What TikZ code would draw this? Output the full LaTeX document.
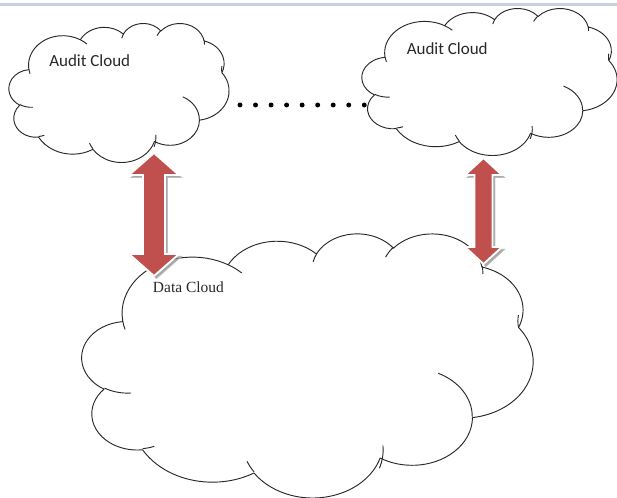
\documentclass[tikz,border=0pt]{standalone}
\usepackage{fontspec}
\newfontfamily\calib{Carlito}
\newfontfamily\tnr{Liberation Serif}
\usetikzlibrary{calc}
\pgfmathdeclarefunction{ofa}{3}{\pgfmathparse{atan2(#1*sin(#3),#2*cos(#3))}}
\pgfmathdeclarefunction{ofd}{4}{\pgfmathparse{mod(ofa(#1,#2,#3+#4)-ofa(#1,#2,#3)+720,360)}}
\definecolor{arrred}{RGB}{192,80,77}
\definecolor{barcol}{RGB}{200,208,220}
\definecolor{inkc}{RGB}{40,40,40}
\tikzset{
  oarc/.style n args={4}{insert path={arc[start angle={ofa(#1,#2,#3)}, delta angle={ofd(#1,#2,#3,#4)}, x radius=#1, y radius=#2]}},
  cloudline/.style={draw=inkc, line width=0.7pt, line join=round},
  arrowbody/.style={fill=arrred, draw=white, line width=1.4pt, line join=miter},
  arrowshadow/.style={fill=black!45, draw=black!30, line width=0.8pt, opacity=0.75, transform canvas={xshift=1.8pt,yshift=-1.8pt}},
  audittext/.style={anchor=base west, inner sep=0pt, text=inkc, font=\calib\fontsize{12.75}{15}\selectfont},
  datatext/.style={anchor=base west, inner sep=0pt, text=inkc, font=\tnr\fontsize{11.6}{14}\selectfont},
  dotline/.style={draw=black, line width=3.7pt, line cap=round, dash pattern=on 0pt off 11.65pt},
}
% Office-style cloud in a 100 x 100 box (y downwards)
\newcommand\officecloud[1]{%
  \path[cloudline, fill=white] (9.028,33.264)
    [oarc={15.632}{21.273}{-190.4875}{123.7805}]
    [oarc={12.345}{16.822}{-144.1024}{89.9452}]
    [oarc={10.104}{13.762}{-145.8079}{99.7230}]
    [oarc={11.243}{15.266}{-130.9861}{117.2417}]
    [oarc={12.345}{16.836}{-78.7089}{109.0269}]
    [oarc={15.683}{21.343}{-46.2673}{130.2690}]
    [oarc={13.391}{18.211}{0.6250}{114.0333}]
    [oarc={15.630}{21.331}{22.4516}{115.1726}]
    [oarc={17.870}{24.405}{66.2426}{75.7110}]
    [oarc={10.093}{13.699}{-274.9421}{146.7356}]
    [oarc={10.058}{13.762}{-246.8285}{152.5189}]
    -- cycle;
  \path[cloudline]
    (10.863,60.595) [oarc={10.058}{13.762}{86.7420}{26.4295}]
    (16.037,80.785) [oarc={10.093}{13.699}{73.6105}{11.4475}]
    (38.144,90.486) [oarc={15.630}{21.331}{137.6242}{14.0811}]
    (66.729,80.442) [oarc={15.630}{21.331}{-6.4533}{31.4390}]
    (79.002,53.134) [oarc={13.391}{18.211}{-70.2924}{70.7749}]
    (96.755,35.542) [oarc={12.345}{16.836}{-190.0899}{20.7568}]
    (88.713,12.560) [oarc={11.243}{15.266}{-13.7443}{14.8567}]
    (67.310,9.148)  [oarc={11.243}{15.266}{-149.1815}{18.1954}]
    (51.252,10.926) [oarc={10.104}{13.762}{-163.4943}{17.6864}]
    (32.407,12.019) [oarc={15.632}{21.273}{-66.7070}{12.3194}]
    (9.553,36.549)  [oarc={15.632}{21.273}{157.6544}{11.8616}];
  \coordinate (#1) at (50,50);
}
% up-down block arrow: top tip, bottom tip, head half width, shaft half width, head length, style
\newcommand\udarrow[6]{%
  \path[#6] (#1) -- ($(#1)+(#3,#5)$) -- ($(#1)+(#4,#5)$) -- ($(#2)+(#4,-#5)$)
    -- ($(#2)+(#3,-#5)$) -- (#2) -- ($(#2)+(-#3,-#5)$) -- ($(#2)+(-#4,-#5)$)
    -- ($(#1)+(-#4,#5)$) -- ($(#1)+(-#3,#5)$) -- cycle;
}
\begin{document}
\begin{tikzpicture}[x=0.75pt, y=-0.75pt]
\useasboundingbox (0,0) rectangle (617,497);
\fill[white] (0,0) rectangle (617,497);
\fill[barcol] (0,2.5) rectangle (617,5.5);

% clouds (shape units: 100 = box size)
\begin{scope}[shift={(82,233)}, x=1cm, y=1cm, xscale=0.118881, yscale=-0.069589]
  \officecloud{datacloud}
\end{scope}
\begin{scope}[shift={(9,23)}, x=1cm, y=1cm, xscale=0.057991, yscale=-0.036640]
  \officecloud{auditleft}
\end{scope}
\begin{scope}[shift={(362,8)}, x=1cm, y=1cm, xscale=0.067216, yscale=-0.038748]
  \officecloud{auditright}
\end{scope}

% dotted link between the audit clouds
\coordinate (dotL) at (240,105);
\coordinate (dotR) at (364.6,105);
\draw[dotline] (dotL) -- (dotR);

% arrows
\coordinate (lTop) at (154,153);
\coordinate (lBot) at (154,276);
\coordinate (rTop) at (483.5,158);
\coordinate (rBot) at (483.5,264);
\udarrow{lTop}{lBot}{25}{11}{22}{arrowshadow}
\udarrow{lTop}{lBot}{25}{11}{22}{arrowbody}
\udarrow{rTop}{rBot}{18.5}{9}{17}{arrowshadow}
\udarrow{rTop}{rBot}{18.5}{9}{17}{arrowbody}

% labels
\node[audittext] (lblAL) at (49,66.5) {Audit Cloud};
\node[audittext] (lblAR) at (406.5,54) {Audit Cloud};
\node[datatext] (lblD) at (152.7,292.7) {Data Cloud};
\end{tikzpicture}
\end{document}
